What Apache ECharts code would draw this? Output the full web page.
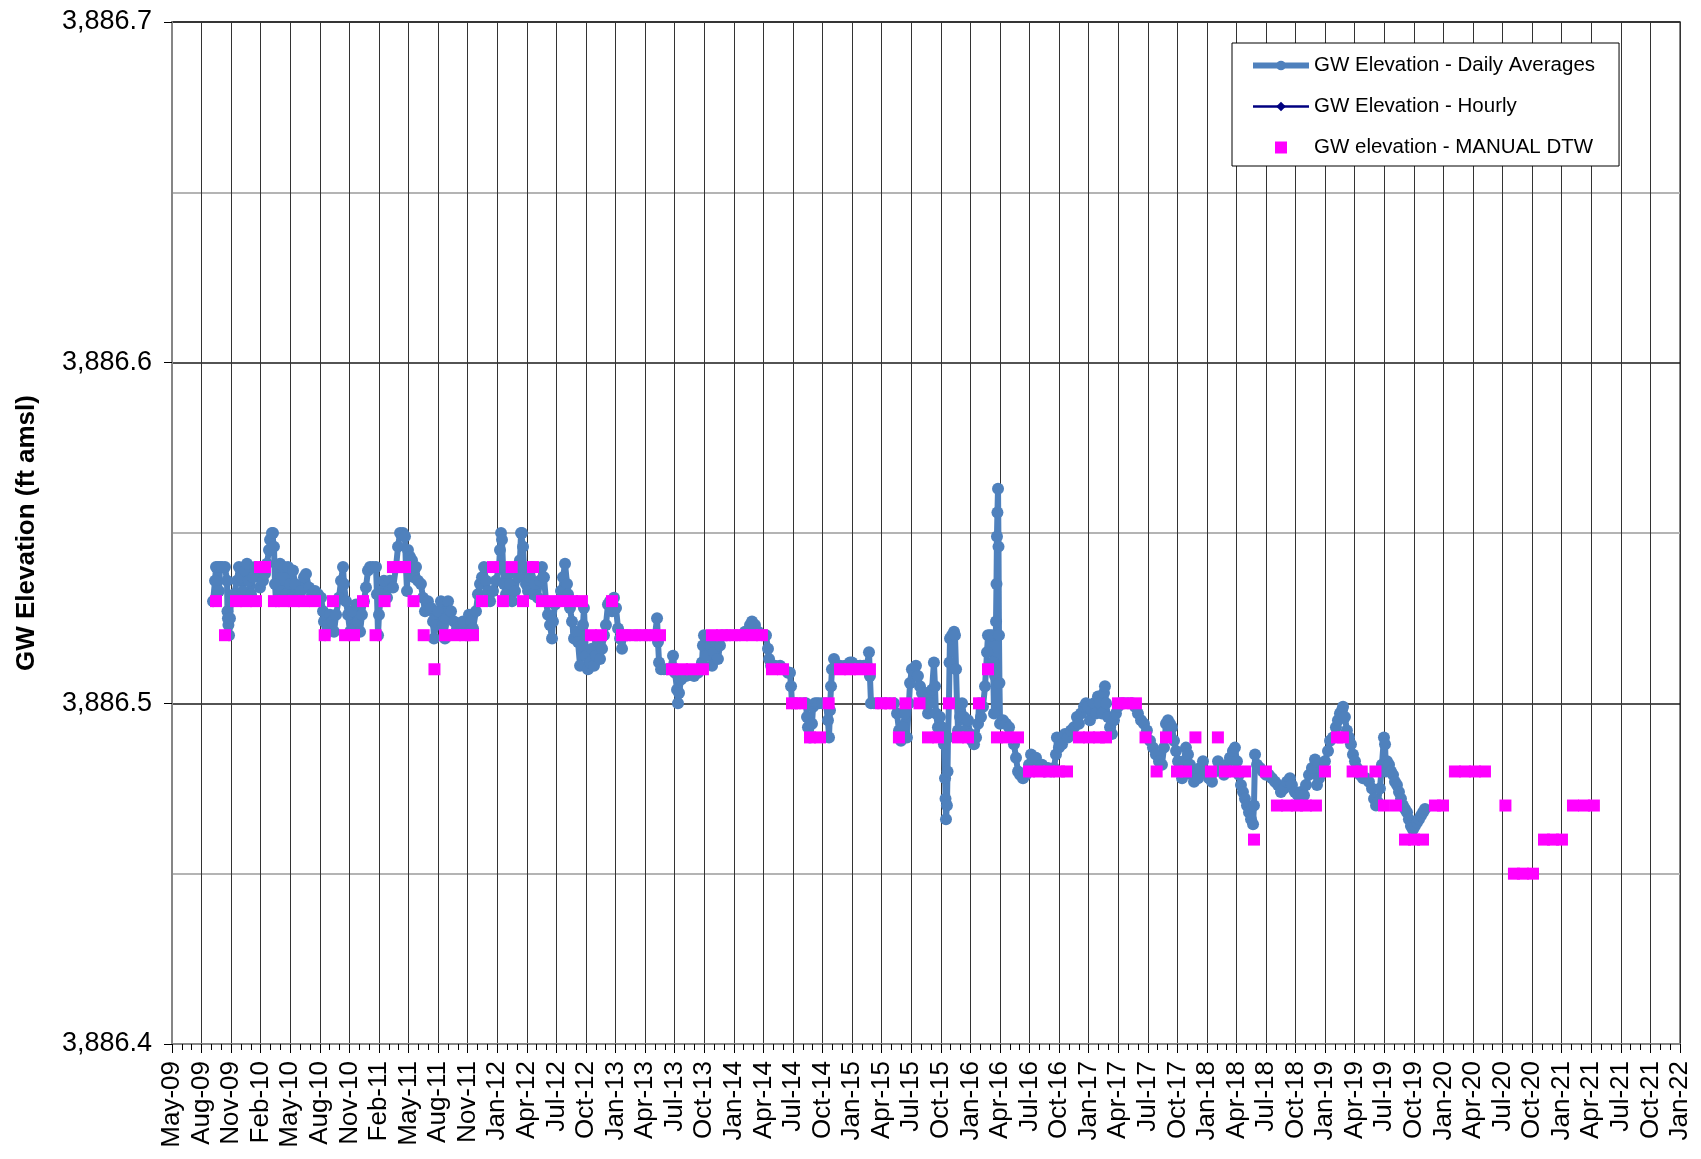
<!DOCTYPE html>
<html>
<head>
<meta charset="utf-8">
<title>GW Elevation</title>
<script src="https://cdn.jsdelivr.net/npm/echarts/dist/echarts.min.js"></script>
<style>
html,body{margin:0;padding:0;background:#fff}
#main{width:1701px;height:1159px}
</style>
</head>
<body>
<div id="main"></div>
<script>
// x axis: decimal years, one label every quarter
var tickLabels = ['May-09','Aug-09','Nov-09','Feb-10','May-10','Aug-10','Nov-10','Feb-11','May-11','Aug-11','Nov-11',
  'Jan-12','Apr-12','Jul-12','Oct-12','Jan-13','Apr-13','Jul-13','Oct-13','Jan-14','Apr-14','Jul-14','Oct-14',
  'Jan-15','Apr-15','Jul-15','Oct-15','Jan-16','Apr-16','Jul-16','Oct-16','Jan-17','Apr-17','Jul-17','Oct-17',
  'Jan-18','Apr-18','Jul-18','Oct-18','Jan-19','Apr-19','Jul-19','Oct-19','Jan-20','Apr-20','Jul-20','Oct-20',
  'Jan-21','Apr-21','Jul-21','Oct-21','Jan-22'];

// GW Elevation - Daily Averages  [year, ft amsl]
var dailyAvg = [
[2009.597,3886.530],[2009.614,3886.536],[2009.622,3886.540],[2009.639,3886.540],[2009.647,3886.533],[2009.656,3886.540],[2009.673,3886.540],[2009.698,3886.540],[2009.715,3886.536],[2009.719,3886.527],[2009.723,3886.525],[2009.727,3886.523],[2009.732,3886.520],[2009.740,3886.525],[2009.749,3886.530],[2009.774,3886.532],[2009.800,3886.536],[2009.816,3886.540],[2009.833,3886.537],[2009.850,3886.533],[2009.867,3886.539],[2009.884,3886.541],[2009.901,3886.536],[2009.918,3886.532],[2009.935,3886.537],[2009.952,3886.540],[2009.977,3886.538],[2009.994,3886.534],[2010.019,3886.536],[2010.036,3886.538],[2010.053,3886.541],[2010.070,3886.545],[2010.079,3886.548],[2010.095,3886.550],[2010.104,3886.550],[2010.112,3886.546],[2010.121,3886.535],[2010.129,3886.530],[2010.146,3886.540],[2010.163,3886.541],[2010.180,3886.533],[2010.197,3886.540],[2010.214,3886.532],[2010.231,3886.540],[2010.248,3886.535],[2010.264,3886.531],[2010.273,3886.539],[2010.290,3886.535],[2010.315,3886.531],
[2010.341,3886.533],[2010.366,3886.537],[2010.383,3886.538],[2010.408,3886.534],[2010.434,3886.532],[2010.459,3886.533],[2010.484,3886.532],[2010.510,3886.531],[2010.527,3886.527],[2010.535,3886.524],[2010.544,3886.520],[2010.561,3886.523],[2010.586,3886.526],[2010.603,3886.524],[2010.620,3886.521],[2010.637,3886.526],[2010.662,3886.531],[2010.679,3886.536],[2010.696,3886.540],[2010.704,3886.535],[2010.721,3886.530],[2010.738,3886.526],[2010.755,3886.521],[2010.772,3886.527],[2010.789,3886.522],[2010.806,3886.529],[2010.823,3886.524],[2010.840,3886.521],[2010.856,3886.526],[2010.873,3886.530],[2010.890,3886.534],[2010.907,3886.539],[2010.924,3886.540],[2010.949,3886.540],[2010.975,3886.540],[2010.983,3886.532],[2010.992,3886.520],[2011.000,3886.526],[2011.017,3886.532],[2011.042,3886.536],[2011.068,3886.531],[2011.093,3886.536],[2011.119,3886.534],[2011.144,3886.540],[2011.161,3886.546],
[2011.178,3886.550],[2011.203,3886.550],[2011.220,3886.549],[2011.228,3886.540],[2011.237,3886.533],[2011.245,3886.545],[2011.262,3886.543],[2011.279,3886.542],[2011.296,3886.537],[2011.313,3886.540],[2011.330,3886.536],[2011.355,3886.535],[2011.372,3886.531],[2011.389,3886.527],[2011.414,3886.530],[2011.440,3886.528],[2011.457,3886.524],[2011.465,3886.519],[2011.482,3886.523],[2011.499,3886.527],[2011.524,3886.530],[2011.541,3886.523],[2011.558,3886.519],[2011.567,3886.525],[2011.584,3886.530],[2011.609,3886.527],[2011.634,3886.524],[2011.660,3886.522],[2011.685,3886.521],[2011.710,3886.524],[2011.736,3886.520],[2011.761,3886.526],[2011.778,3886.524],[2011.795,3886.522],[2011.820,3886.527],[2011.837,3886.532],[2011.854,3886.535],[2011.871,3886.537],[2011.888,3886.540],[2011.905,3886.536],[2011.922,3886.533],[2011.939,3886.530],[2011.964,3886.533],[2011.989,3886.536],[2012.015,3886.540],
[2012.023,3886.545],[2012.032,3886.550],[2012.040,3886.548],[2012.049,3886.540],[2012.057,3886.535],[2012.074,3886.532],[2012.091,3886.538],[2012.108,3886.535],[2012.125,3886.530],[2012.150,3886.533],[2012.175,3886.537],[2012.192,3886.542],[2012.201,3886.550],[2012.209,3886.550],[2012.218,3886.546],[2012.226,3886.540],[2012.243,3886.535],[2012.260,3886.533],[2012.277,3886.537],[2012.294,3886.540],[2012.302,3886.532],[2012.319,3886.535],[2012.344,3886.531],[2012.361,3886.536],[2012.378,3886.540],[2012.395,3886.537],[2012.412,3886.530],[2012.429,3886.526],[2012.446,3886.523],[2012.463,3886.519],[2012.471,3886.524],[2012.488,3886.529],[2012.514,3886.530],[2012.539,3886.533],[2012.556,3886.537],[2012.573,3886.541],[2012.590,3886.535],[2012.598,3886.532],[2012.615,3886.528],[2012.632,3886.524],[2012.649,3886.519],[2012.666,3886.521],[2012.683,3886.518],[2012.700,3886.511],[2012.716,3886.517],[2012.725,3886.523],[2012.733,3886.528],[2012.750,3886.514],[2012.767,3886.510],[2012.784,3886.512],[2012.801,3886.516],[2012.818,3886.511],[2012.835,3886.514],[2012.852,3886.518],
[2012.869,3886.513],[2012.886,3886.516],[2012.902,3886.520],[2012.919,3886.523],[2012.936,3886.529],[2012.953,3886.530],[2012.970,3886.527],[2012.987,3886.531],[2013.004,3886.528],[2013.021,3886.522],[2013.038,3886.519],[2013.055,3886.516],[2013.072,3886.520],[2013.097,3886.520],[2013.122,3886.520],[2013.165,3886.520],[2013.207,3886.520],[2013.249,3886.520],[2013.291,3886.520],[2013.334,3886.520],[2013.351,3886.525],[2013.359,3886.518],[2013.368,3886.512],[2013.385,3886.510],[2013.410,3886.510],[2013.435,3886.510],[2013.461,3886.510],[2013.486,3886.514],[2013.503,3886.509],[2013.520,3886.504],[2013.528,3886.500],[2013.537,3886.503],[2013.554,3886.507],[2013.571,3886.509],[2013.596,3886.508],[2013.630,3886.509],[2013.664,3886.508],[2013.697,3886.509],
[2013.731,3886.512],[2013.739,3886.517],[2013.748,3886.520],[2013.765,3886.514],[2013.782,3886.519],[2013.799,3886.517],[2013.816,3886.511],[2013.832,3886.515],[2013.849,3886.518],[2013.866,3886.513],[2013.883,3886.517],[2013.900,3886.520],[2013.934,3886.520],[2013.968,3886.520],[2014.010,3886.520],[2014.052,3886.520],[2014.095,3886.521],[2014.137,3886.523],[2014.154,3886.524],[2014.179,3886.523],[2014.205,3886.521],[2014.238,3886.520],[2014.272,3886.520],[2014.289,3886.516],[2014.298,3886.513],[2014.315,3886.511],[2014.348,3886.511],[2014.391,3886.511],[2014.425,3886.510],[2014.458,3886.509],[2014.475,3886.509],[2014.484,3886.505],[2014.492,3886.500],[2014.518,3886.500],
[2014.560,3886.500],[2014.593,3886.500],[2014.610,3886.500],[2014.619,3886.496],[2014.627,3886.493],[2014.644,3886.490],[2014.661,3886.494],[2014.670,3886.499],[2014.686,3886.500],[2014.703,3886.500],[2014.720,3886.500],[2014.746,3886.500],[2014.779,3886.500],[2014.796,3886.495],[2014.805,3886.490],[2014.813,3886.498],[2014.822,3886.505],[2014.830,3886.510],[2014.847,3886.513],[2014.864,3886.511],[2014.898,3886.511],[2014.940,3886.511],[2014.982,3886.512],[2014.999,3886.512],[2015.033,3886.511],[2015.067,3886.511],[2015.101,3886.511],[2015.126,3886.511],[2015.143,3886.515],[2015.151,3886.508],[2015.160,3886.500],[2015.185,3886.500],[2015.219,3886.500],[2015.253,3886.500],[2015.287,3886.500],[2015.320,3886.500],[2015.354,3886.500],[2015.380,3886.497],[2015.397,3886.492],
[2015.413,3886.489],[2015.430,3886.493],[2015.447,3886.497],[2015.464,3886.490],[2015.481,3886.500],[2015.490,3886.506],[2015.506,3886.510],[2015.523,3886.508],[2015.540,3886.511],[2015.557,3886.508],[2015.574,3886.505],[2015.591,3886.503],[2015.608,3886.500],[2015.625,3886.503],[2015.642,3886.497],[2015.659,3886.500],[2015.676,3886.504],[2015.692,3886.512],[2015.701,3886.505],[2015.709,3886.497],[2015.726,3886.493],[2015.743,3886.496],[2015.760,3886.493],[2015.777,3886.488],[2015.786,3886.478],[2015.790,3886.472],[2015.794,3886.466],[2015.802,3886.470],[2015.807,3886.480],[2015.811,3886.490],[2015.819,3886.500],[2015.824,3886.512],[2015.828,3886.519],[2015.845,3886.520],[2015.862,3886.521],[2015.870,3886.520],[2015.879,3886.510],[2015.887,3886.500],[2015.896,3886.492],[2015.913,3886.496],[2015.930,3886.500],[2015.946,3886.496],[2015.963,3886.492],[2015.980,3886.495],[2015.997,3886.491],[2016.014,3886.489],[2016.031,3886.488],[2016.048,3886.490],[2016.065,3886.494],[2016.073,3886.500],[2016.090,3886.496],[2016.107,3886.499],[2016.124,3886.505],[2016.141,3886.515],[2016.149,3886.520],[2016.166,3886.520],[2016.183,3886.520],[2016.192,3886.512],[2016.200,3886.497],[2016.209,3886.508],[2016.217,3886.524],[2016.221,3886.535],[2016.225,3886.549],[2016.229,3886.556],[2016.234,3886.563],[2016.238,3886.546],[2016.242,3886.520],[2016.246,3886.506],
[2016.251,3886.494],[2016.276,3886.495],[2016.301,3886.494],[2016.327,3886.493],[2016.352,3886.490],[2016.369,3886.488],[2016.386,3886.484],[2016.403,3886.480],[2016.420,3886.479],[2016.445,3886.478],[2016.470,3886.479],[2016.496,3886.482],[2016.513,3886.485],[2016.530,3886.483],[2016.555,3886.484],[2016.580,3886.481],[2016.606,3886.482],[2016.631,3886.480],[2016.656,3886.481],[2016.682,3886.480],[2016.707,3886.481],[2016.724,3886.485],[2016.732,3886.490],[2016.749,3886.487],[2016.775,3886.488],[2016.800,3886.491],[2016.825,3886.490],[2016.851,3886.492],[2016.876,3886.493],[2016.901,3886.496],[2016.918,3886.494],[2016.935,3886.497],[2016.961,3886.499],[2016.978,3886.500],[2016.995,3886.499],[2017.011,3886.495],[2017.028,3886.498],[2017.045,3886.500],[2017.062,3886.497],[2017.079,3886.502],
[2017.096,3886.500],[2017.113,3886.497],[2017.130,3886.503],[2017.138,3886.505],[2017.147,3886.500],[2017.164,3886.496],[2017.181,3886.493],[2017.197,3886.491],[2017.214,3886.495],[2017.231,3886.497],[2017.248,3886.499],[2017.265,3886.500],[2017.299,3886.500],[2017.333,3886.500],[2017.367,3886.500],[2017.392,3886.499],[2017.417,3886.497],[2017.443,3886.495],[2017.468,3886.494],[2017.493,3886.492],[2017.519,3886.489],[2017.544,3886.487],[2017.569,3886.485],[2017.595,3886.483],[2017.620,3886.482],[2017.637,3886.487],[2017.654,3886.494],[2017.671,3886.495],[2017.688,3886.494],[2017.705,3886.493],[2017.722,3886.489],[2017.739,3886.486],[2017.756,3886.483],[2017.773,3886.480],[2017.790,3886.478],[2017.807,3886.483],[2017.823,3886.487],[2017.840,3886.485],[2017.857,3886.482],[2017.874,3886.479],[2017.891,3886.477],[2017.908,3886.480],[2017.925,3886.478],
[2017.941,3886.481],[2017.967,3886.483],[2017.992,3886.480],[2018.018,3886.478],[2018.043,3886.477],[2018.068,3886.480],[2018.094,3886.483],[2018.119,3886.481],[2018.144,3886.479],[2018.170,3886.482],[2018.195,3886.484],[2018.220,3886.486],[2018.237,3886.487],[2018.254,3886.483],[2018.271,3886.479],[2018.288,3886.476],[2018.305,3886.474],[2018.322,3886.472],[2018.339,3886.470],[2018.356,3886.468],[2018.373,3886.466],[2018.390,3886.4645],[2018.398,3886.470],[2018.407,3886.485],[2018.424,3886.482],[2018.449,3886.481],[2018.474,3886.480],[2018.500,3886.479],[2018.525,3886.479],[2018.550,3886.478],[2018.576,3886.477],[2018.601,3886.476],[2018.626,3886.474],[2018.652,3886.475],[2018.677,3886.477],[2018.702,3886.478],[2018.719,3886.476],[2018.744,3886.474],[2018.770,3886.473],
[2018.795,3886.474],[2018.821,3886.473],[2018.838,3886.476],[2018.863,3886.479],[2018.888,3886.481],[2018.914,3886.4835],[2018.931,3886.476],[2018.948,3886.478],[2018.973,3886.481],[2018.998,3886.483],[2019.024,3886.486],[2019.041,3886.489],[2019.066,3886.490],[2019.091,3886.493],[2019.108,3886.495],[2019.125,3886.497],[2019.142,3886.498],[2019.151,3886.499],[2019.167,3886.496],[2019.184,3886.492],[2019.201,3886.490],[2019.218,3886.488],[2019.235,3886.485],[2019.252,3886.483],[2019.269,3886.481],[2019.294,3886.479],[2019.320,3886.478],[2019.345,3886.478],[2019.370,3886.477],[2019.396,3886.475],[2019.413,3886.472],[2019.430,3886.470],[2019.446,3886.471],[2019.463,3886.475],[2019.480,3886.482],[2019.497,3886.490],[2019.506,3886.488],[2019.514,3886.480],[2019.523,3886.483],[2019.540,3886.482],[2019.557,3886.480],[2019.574,3886.479],[2019.590,3886.477],[2019.607,3886.476],[2019.624,3886.474],
[2019.641,3886.472],[2019.658,3886.470],[2019.675,3886.469],[2019.692,3886.468],[2019.708,3886.466],[2019.725,3886.464],[2019.742,3886.463],[2019.759,3886.464],[2019.776,3886.465],[2019.793,3886.466],[2019.810,3886.467],[2019.827,3886.468],[2019.844,3886.469]
];

// GW Elevation - Hourly (no points plotted in this view)
var hourly = [];

// GW elevation - MANUAL DTW  [year, ft amsl]
var manualDtw = [
[2009.622,3886.53],[2009.698,3886.52],[2009.791,3886.53],[2009.876,3886.53],[2009.960,3886.53],[2009.994,3886.54],[2010.036,3886.54],[2010.112,3886.53],[2010.197,3886.53],[2010.281,3886.53],[2010.366,3886.53],[2010.459,3886.53],[2010.541,3886.52],[2010.611,3886.53],[2010.713,3886.52],[2010.789,3886.52],[2010.865,3886.53],[2010.971,3886.52],[2011.047,3886.53],[2011.118,3886.54],[2011.169,3886.54],[2011.220,3886.54],[2011.292,3886.53],[2011.378,3886.52],[2011.469,3886.51],[2011.558,3886.52],[2011.643,3886.52],[2011.727,3886.52],[2011.795,3886.52],[2011.871,3886.53],[2011.964,3886.54],
[2012.048,3886.53],[2012.122,3886.54],[2012.218,3886.53],[2012.302,3886.54],[2012.378,3886.53],[2012.463,3886.53],[2012.547,3886.53],[2012.632,3886.53],[2012.716,3886.53],[2012.792,3886.52],[2012.877,3886.52],[2012.970,3886.53],[2013.055,3886.52],[2013.139,3886.52],[2013.224,3886.52],[2013.308,3886.52],[2013.376,3886.52],[2013.477,3886.51],[2013.562,3886.51],[2013.646,3886.51],[2013.739,3886.51],[2013.815,3886.52],[2013.900,3886.52],[2013.985,3886.52],
[2014.069,3886.52],[2014.154,3886.52],[2014.238,3886.52],[2014.323,3886.51],[2014.416,3886.51],[2014.492,3886.50],[2014.568,3886.50],[2014.644,3886.49],[2014.729,3886.49],[2014.802,3886.50],[2014.898,3886.51],[2014.982,3886.51],[2015.067,3886.51],[2015.151,3886.51],[2015.244,3886.50],[2015.320,3886.50],[2015.396,3886.49],[2015.451,3886.50],[2015.570,3886.50],[2015.642,3886.49],[2015.726,3886.49],[2015.819,3886.50],[2015.895,3886.49],[2015.980,3886.49],
[2016.073,3886.50],[2016.149,3886.51],[2016.225,3886.49],[2016.309,3886.49],[2016.403,3886.49],[2016.496,3886.48],[2016.580,3886.48],[2016.665,3886.48],[2016.749,3886.48],[2016.817,3886.48],[2016.918,3886.49],[2017.003,3886.49],[2017.087,3886.49],[2017.147,3886.49],[2017.248,3886.50],[2017.324,3886.50],[2017.400,3886.50],[2017.481,3886.49],[2017.575,3886.48],[2017.654,3886.49],[2017.747,3886.48],[2017.823,3886.48],[2017.903,3886.49],
[2018.034,3886.48],[2018.093,3886.49],[2018.153,3886.48],[2018.237,3886.48],[2018.322,3886.48],[2018.398,3886.46],[2018.499,3886.48],[2018.592,3886.47],[2018.677,3886.47],[2018.761,3886.47],[2018.837,3886.47],[2018.922,3886.47],[2018.998,3886.48],[2019.100,3886.49],[2019.150,3886.49],[2019.232,3886.48],[2019.309,3886.48],[2019.425,3886.48],[2019.497,3886.47],[2019.598,3886.47],[2019.675,3886.46],[2019.751,3886.46],[2019.827,3886.46],[2019.928,3886.47],[2019.996,3886.47],
[2020.097,3886.48],[2020.182,3886.48],[2020.266,3886.48],[2020.351,3886.48],[2020.524,3886.47],[2020.596,3886.45],[2020.672,3886.45],[2020.757,3886.45],[2020.850,3886.46],[2020.926,3886.46],[2021.002,3886.46],[2021.095,3886.47],[2021.188,3886.47],[2021.272,3886.47]
];

var xStart = 2009.25, xStep = 0.25;
var FONT = 'Liberation Sans, Arial, sans-serif';
var BLUE = '#4F81BD';

function fmtElev(v) {
    var s = v.toFixed(1);
    var parts = s.split('.');
    return parts[0].replace(/\B(?=(\d{3})+(?!\d))/g, ',') + '.' + parts[1];
}

var myChart = echarts.init(document.getElementById('main'), null, {renderer: 'canvas'});

myChart.setOption({
    animation: false,
    backgroundColor: '#fff',
    grid: {
        left: 172, top: 22, right: 21, bottom: 115,
        show: true, borderColor: '#868686', borderWidth: 2
    },
    legend: {
        orient: 'vertical',
        left: 1232, top: 43,
        padding: [12, 24, 8, 18],
        itemGap: 20,
        itemWidth: 56,
        itemHeight: 12,
        backgroundColor: '#fff',
        borderColor: '#000',
        borderWidth: 1,
        selectedMode: false,
        textStyle: {fontSize: 20.5, color: '#000', fontFamily: FONT},
        data: [
            {name: 'GW Elevation - Daily Averages', lineStyle: {width: 6, color: BLUE}},
            {name: 'GW Elevation - Hourly', lineStyle: {width: 2.5, color: '#000080'}},
            {name: 'GW elevation - MANUAL DTW', icon: 'path://M0,0L10,0L10,10L0,10Z'}
        ]
    },
    xAxis: {
        type: 'value',
        min: xStart,
        max: xStart + xStep * (tickLabels.length - 1),
        interval: xStep,
        axisLine: {show: true, lineStyle: {color: '#868686', width: 2}},
        axisTick: {show: true, length: 9, lineStyle: {color: '#000', width: 1}},
        minorTick: {show: true, splitNumber: 3, length: 6, lineStyle: {color: '#000', width: 1}},
        splitLine: {show: true, lineStyle: {color: '#333', width: 1}},
        axisLabel: {
            rotate: 90,
            margin: 17,
            fontSize: 26,
            color: '#000',
            fontFamily: FONT,
            formatter: function (v) {
                var i = Math.round((v - xStart) / xStep);
                return tickLabels[i] || '';
            }
        }
    },
    yAxis: {
        type: 'value',
        min: 3886.4,
        max: 3886.7,
        interval: 0.1,
        name: 'GW Elevation (ft amsl)',
        nameLocation: 'middle',
        nameGap: 132,
        nameTextStyle: {fontSize: 26, fontWeight: 'bold', color: '#000', fontFamily: FONT},
        axisLine: {show: true, lineStyle: {color: '#868686', width: 2}},
        axisTick: {show: true, length: 8, lineStyle: {color: '#000', width: 1}},
        splitLine: {show: true, lineStyle: {color: '#1a1a1a', width: 1.5}},
        minorTick: {show: false, splitNumber: 2},
        minorSplitLine: {show: true, lineStyle: {color: '#b4b4b4', width: 2}},
        axisLabel: {
            margin: 20,
            fontSize: 27,
            color: '#000',
            fontFamily: FONT,
            formatter: fmtElev
        }
    },
    series: [
        {
            name: 'GW Elevation - Daily Averages',
            type: 'line',
            data: dailyAvg,
            symbol: 'circle',
            symbolSize: 12,
            showSymbol: true,
            lineStyle: {color: BLUE, width: 6},
            itemStyle: {color: BLUE},
            silent: true
        },
        {
            name: 'GW Elevation - Hourly',
            type: 'line',
            data: hourly,
            symbol: 'diamond',
            symbolSize: 6,
            lineStyle: {color: '#000080', width: 2},
            itemStyle: {color: '#000080'},
            silent: true
        },
        {
            name: 'GW elevation - MANUAL DTW',
            type: 'scatter',
            data: manualDtw,
            symbol: 'rect',
            symbolSize: 12,
            symbolKeepAspect: true,
            itemStyle: {color: '#FF00FF', opacity: 1},
            silent: true,
            z: 3
        }
    ]
});
</script>
</body>
</html>
